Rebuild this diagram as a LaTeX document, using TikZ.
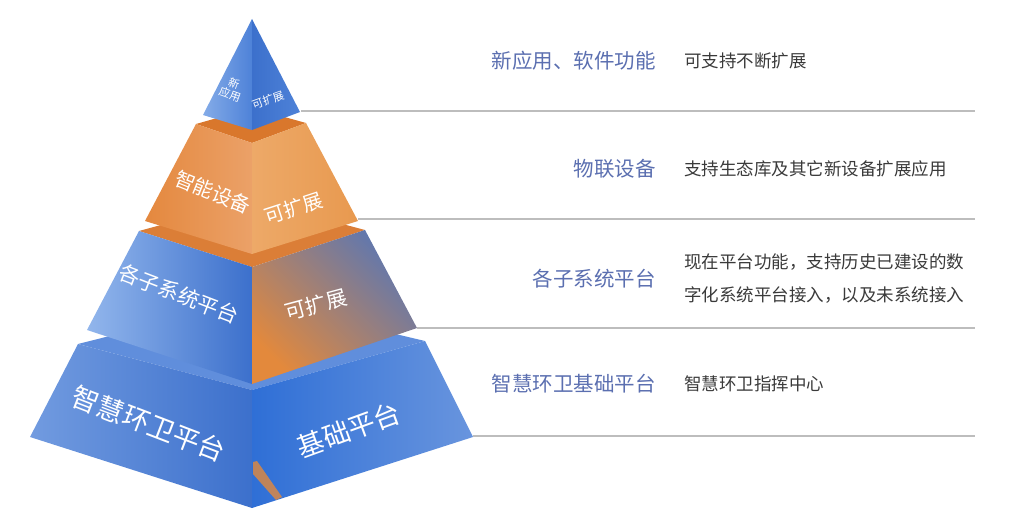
\documentclass[tikz,border=0pt]{standalone}
\usepackage{fontspec}
\setmainfont{Noto Sans CJK SC}
\usetikzlibrary{positioning}
\definecolor{labblue}{HTML}{5B6FB0}
\definecolor{descgray}{HTML}{3A3A3A}
\definecolor{rulegray}{HTML}{BDBDBD}
\definecolor{oTop}{HTML}{D9772C}
\definecolor{oLeftA}{HTML}{E4883E}
\definecolor{oLeftB}{HTML}{EBA168}
\definecolor{oRightA}{HTML}{EDA968}
\definecolor{oRightB}{HTML}{E8994F}
\definecolor{bLight}{HTML}{92B6EC}
\definecolor{bMid}{HTML}{4E82D8}
\definecolor{bDark}{HTML}{3C70CC}
\definecolor{bDeep}{HTML}{2F6FD6}
\definecolor{slate}{HTML}{5E77B0}
\definecolor{rust}{HTML}{E3893C}
\begin{document}
\begin{tikzpicture}[x=1pt,y=-1pt,
  face/.style={text=white,inner sep=0pt,align=center},
  lab/.style={text=labblue,anchor=east,inner sep=0pt,font=\fontsize{20.5}{24}\selectfont},
  desc/.style={text=descgray,anchor=west,inner sep=0pt,align=left,font=\fontsize{17.5}{33}\selectfont},
  rule/.style={draw=rulegray,line width=1.2pt}]
  \useasboundingbox (0,0) rectangle (1014,527);
  % tier 4
  \fill[color=bMid!90!white] (78,344) -- (252,300) -- (425,341) -- (252,390) -- cycle;
  \shade[left color=bMid!80!white,right color=bDark] (78,344) -- (30,437) -- (252,508) -- (252,390) -- cycle;
  \shade[left color=bDeep,right color=bMid!85!white] (252,390) -- (252,508) -- (473,437) -- (425,341) -- cycle;
  \fill[rust,opacity=0.8] (253,462) -- (257,461) -- (282,497) -- (276,500) -- (253,474) -- cycle;
  % tier 3
  \fill[color=oTop!95!white] (139,231) -- (252,200) -- (365,230) -- (252,267) -- cycle;
  \shade[left color=bLight,right color=bDark] (139,231) -- (87,330) -- (252,384) -- (252,267) -- cycle;
  \shade[top color=slate,bottom color=rust,shading angle=-45] (252,267) -- (252,384) -- (417,328) -- (365,230) -- cycle;
  % tier 2
  \fill[color=oTop] (196,124) -- (252,108) -- (306,123) -- (252,143) -- cycle;
  \shade[left color=oLeftA,right color=oLeftB] (196,124) -- (145,221) -- (252,254) -- (252,143) -- cycle;
  \shade[left color=oRightA,right color=oRightB] (252,143) -- (252,254) -- (358,221) -- (306,123) -- cycle;
  % tier 1
  \shade[left color=bLight!80!bMid,right color=bMid] (252,19) -- (203,115) -- (252,130) -- cycle;
  \shade[left color=bDark,right color=bMid] (252,19) -- (252,130) -- (300,112) -- cycle;
  % face texts
  \node[face,rotate=-20,font=\fontsize{11}{12}\selectfont] (f1l) at (232,89) {新\\应用};
  \node[face,rotate=20,font=\fontsize{11}{12}\selectfont] (f1r) at (268,100) {可扩展};
  \node[face,rotate=-22,font=\fontsize{20}{24}\selectfont] (f2l) at (213,192) {智能设备};
  \node[face,rotate=18,font=\fontsize{20}{24}\selectfont] (f2r) at (294,208) {可扩展};
  \node[face,rotate=-21,font=\fontsize{21}{24}\selectfont] (f3l) at (179,294) {各子系统平台};
  \node[face,rotate=15,font=\fontsize{21}{24}\selectfont] (f3r) at (316,305) {可扩展};
  \node[face,rotate=-21,font=\fontsize{27}{30}\selectfont] (f4l) at (149,424) {智慧环卫平台};
  \node[face,rotate=20,font=\fontsize{27}{30}\selectfont] (f4r) at (349,430) {基础平台};
  % rules
  \coordinate (c1) at (301,111); \coordinate (e1) at (975,111);
  \coordinate (c2) at (358,219); \coordinate (e2) at (975,219);
  \coordinate (c3) at (417,328); \coordinate (e3) at (975,328);
  \coordinate (c4) at (473,436); \coordinate (e4) at (975,436);
  \draw[rule] (c1) -- (e1);
  \draw[rule] (c2) -- (e2);
  \draw[rule] (c3) -- (e3);
  \draw[rule] (c4) -- (e4);
  % labels
  \node[lab] (lab1) at (656,61) {新应用、软件功能};
  \node[lab] (lab2) at (656,169) {物联设备};
  \node[lab] (lab3) at (656,279) {各子系统平台};
  \node[lab] (lab4) at (656,384) {智慧环卫基础平台};
  \node[desc] (desc1) at (684,61) {可支持不断扩展};
  \node[desc] (desc2) at (684,169) {支持生态库及其它新设备扩展应用};
  \node[desc] (desc3) at (684,279) {现在平台功能，支持历史已建设的数\\字化系统平台接入，以及未系统接入};
  \node[desc] (desc4) at (684,384) {智慧环卫指挥中心};
\end{tikzpicture}
\end{document}
